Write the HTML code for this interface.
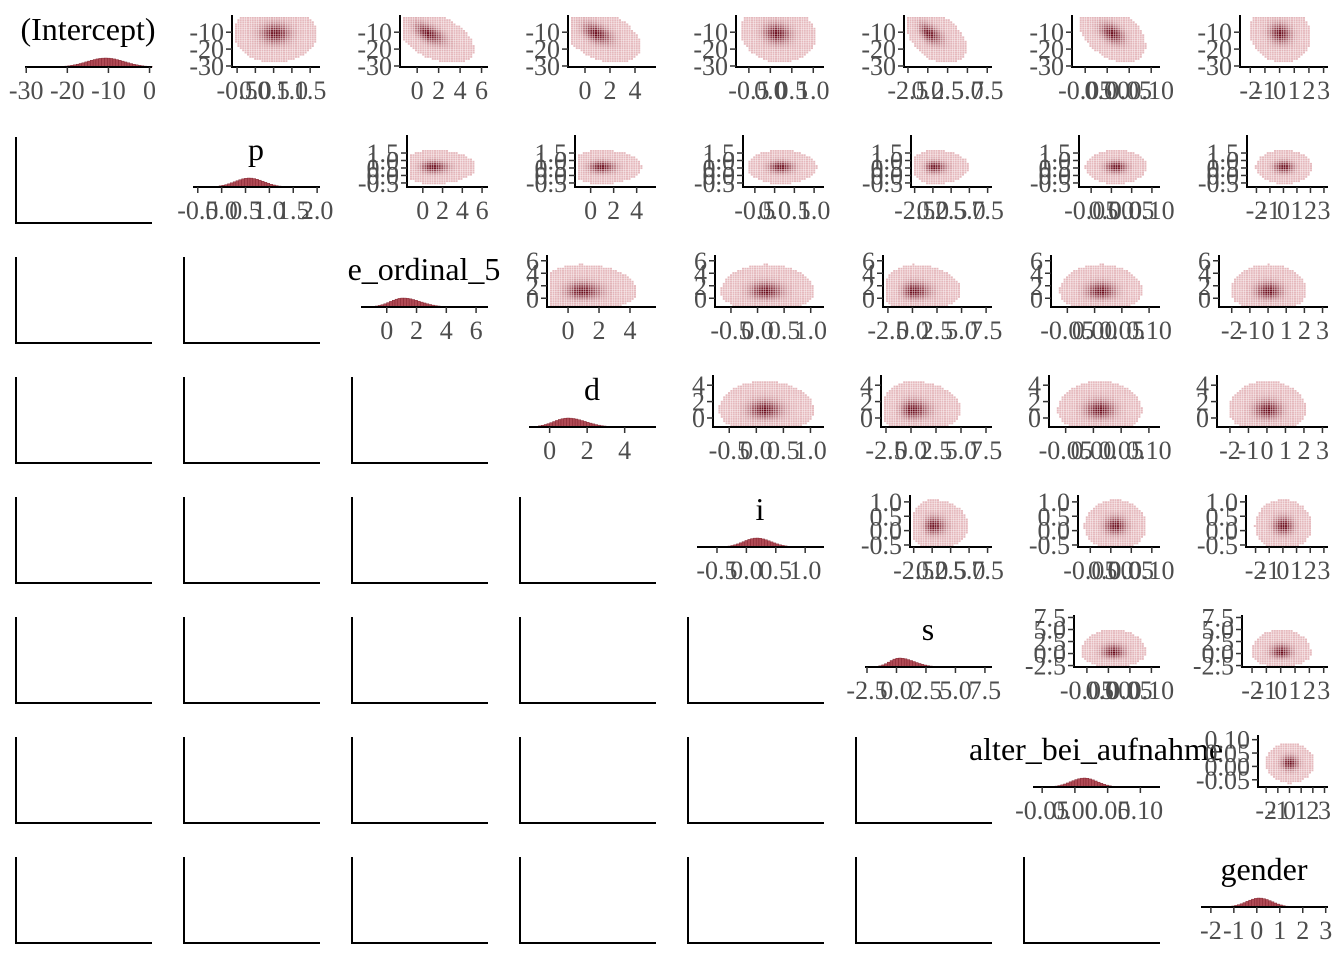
<!DOCTYPE html>
<html><head><meta charset="utf-8"><style>
html,body{margin:0;padding:0;background:#fff}
svg{display:block}
text{font-family:"Liberation Serif",serif}
.tk{fill:#4d4d4d;font-size:26px}
.tt{fill:#000;font-size:32px}
</style></head><body>
<svg id="chart" width="1344" height="960" viewBox="0 0 1344 960" xmlns="http://www.w3.org/2000/svg"></svg>
<script>
const varNames = ["(Intercept)","p","e_ordinal_5","d","i","s","alter_bei_aufnahme","gender"];
const varMeans = [-11, 0.55, 1.0, 0.9, 0.15, 0.1, 0.012, 0.05];
const varSds = [4.5, 0.3, 0.85, 0.75, 0.22, 0.8, 0.02, 0.55];
const varSkew = [0, 0, 0.35, 0.25, 0.1, 0.6, 0, 0];
const corrRow0 = [0, 0, -0.55, -0.45, -0.1, -0.5, -0.4, -0.1];
const diagRanges = [[-30.3,0.6],[-0.6,2.06],[-1.73,6.8],[-1.1,5.67],[-0.84,1.32],[-2.67,8.1],[-0.064,0.13],[-2.43,3.1]];
const colRanges = [[-31,1],[-0.64,1.77],[-1.6,6.6],[-1.36,5.68],[-0.8,1.25],[-3,8.1],[-0.08,0.12],[-2.7,3.3]];
const rowRanges = [[-30.6,-1],[-0.77,2.57],[-1.4,6.6],[-1.1,5.0],[-0.57,1.17],[-2.8,7.6],[-0.077,0.11]];
const diagTicks = [[-30,-20,-10,0],[-0.5,0,0.5,1,1.5,2],[0,2,4,6],[0,2,4],[-0.5,0,0.5,1],[-2.5,0,2.5,5,7.5],[-0.05,0,0.05,0.1],[-2,-1,0,1,2,3]];
const diagLabels = [["-30","-20","-10","0"],["-0.5","0.0","0.5","1.0","1.5","2.0"],["0","2","4","6"],["0","2","4"],["-0.5","0.0","0.5","1.0"],["-2.5","0.0","2.5","5.0","7.5"],["-0.05","0.00","0.05","0.10"],["-2","-1","0","1","2","3"]];
const colTicks = [[-30,-20,-10,0],[-0.5,0,0.5,1,1.5],[0,2,4,6],[0,2,4],[-0.5,0,0.5,1],[-2.5,0,2.5,5,7.5],[-0.05,0,0.05,0.1],[-2,-1,0,1,2,3]];
const colLabels = [["-30","-20","-10","0"],["-0.5","0.0","0.5","1.0","1.5"],["0","2","4","6"],["0","2","4"],["-0.5","0.0","0.5","1.0"],["-2.5","0.0","2.5","5.0","7.5"],["-0.05","0.00","0.05","0.10"],["-2","-1","0","1","2","3"]];
const rowTicks = [[-10,-20,-30],[-0.5,0,0.5,1,1.5],[0,2,4,6],[0,2,4],[-0.5,0,0.5,1],[-2.5,0,2.5,5,7.5],[-0.05,0,0.05,0.1]];
const rowLabels = [["-10","-20","-30"],["-0.5","0.0","0.5","1.0","1.5"],["0","2","4","6"],["0","2","4"],["-0.5","0.0","0.5","1.0"],["-2.5","0.0","2.5","5.0","7.5"],["-0.05","0.00","0.05","0.10"]];

const svg = document.getElementById('chart');
const NS = 'http://www.w3.org/2000/svg';
function mk(tag, attrs, parent){const e=document.createElementNS(NS,tag);for(const k in attrs)e.setAttribute(k,attrs[k]);(parent||svg).appendChild(e);return e;}
const rowOffsets = [64,71,43,41,70,66,82];
const CW=168, RH=120;
function lin(d0,d1,r0,r1){return v=>r0+(v-d0)/(d1-d0)*(r1-r0);}
function col(t){const a=[230,186,190],b=[105,8,24];t=Math.pow(t,1.8);return `rgb(${a.map((v,i)=>Math.round(v+(b[i]-v)*t)).join(',')})`;}

for(let r=0;r<8;r++){
  for(let c=0;c<8;c++){
    const cl=c*CW, top=17+r*RH, bot=67+r*RH;
    const g=mk('g',{});
    if(c<r){
      
      
      mk('path',{d:`M${cl+16} ${top}V${103+r*RH}H${cl+152}`,fill:'none',stroke:'#000','stroke-width':2},g);
    } else if(c===r){
      
      
      const L=cl+25,R=cl+152;
      const sx=lin(diagRanges[c][0],diagRanges[c][1],L,R);
      const m=varMeans[c],s=varSds[c];
      const bw=(diagRanges[c][1]-diagRanges[c][0])/45;
      for(let v=m-3.2*s;v<m+4*s;v+=bw){
        const z=(v-m)/(s*(v>m?1+varSkew[c]:1));
        const h=9*Math.exp(-z*z/2);
        if(h<0.4)continue;
        const b=mk('rect',{x:sx(v),y:bot-h,width:sx(v+bw)-sx(v),height:h,fill:'#b04a55',stroke:'#7a1d28','stroke-width':0.4},g);
        
        
      }
      mk('line',{x1:L,x2:R,y1:bot,y2:bot,stroke:'#000','stroke-width':2},g);
      diagTicks[c].forEach((t,i)=>{
        const x=sx(t);
        mk('line',{x1:x,x2:x,y1:bot,y2:bot+6,stroke:'#333','stroke-width':1.5},g);
        const tx=mk('text',{x:x,y:bot+32,'text-anchor':'middle',class:'tk'},g);tx.textContent=diagLabels[c][i];
      });
      const tt=mk('text',{x:cl+88,y:40+r*RH,'text-anchor':'middle',class:'tt'},g);
      
      
      tt.textContent=varNames[r];
    } else {
      
      
      const L=cl+rowOffsets[r],R=cl+152;
      const sx=lin(colRanges[c][0],colRanges[c][1],L,R);
      const sy=lin(rowRanges[r][0],rowRanges[r][1],bot,top);
      const ix=lin(L,R,colRanges[c][0],colRanges[c][1]);
      const iy=lin(bot,top,rowRanges[r][0],rowRanges[r][1]);
      const rho=r===0?corrRow0[c]:0;
      const cs=2.4;
      for(let px=L+3;px<R-1;px+=cs){
        for(let py=top;py<bot-2;py+=cs*0.9){
          const xv=ix(px+cs/2),yv=iy(py+cs/2);
          let zx=(xv-varMeans[c])/(varSds[c]*1.15);if(zx>0)zx/=(1+varSkew[c]);
          let zy=(yv-varMeans[r])/(varSds[r]*1.15);if(zy>0)zy/=(1+varSkew[r]);
          const q=(zx*zx-2*rho*zx*zy+zy*zy)/(1-rho*rho);
          if(q>11)continue;
          mk('rect',{x:px.toFixed(1),y:py.toFixed(1),width:cs-0.4,height:cs*0.9-0.3,fill:col(Math.exp(-q/2))},g);
        }
      }
      mk('path',{d:`M${L} ${top-2}V${bot}H${R}`,fill:'none',stroke:'#000','stroke-width':2},g);
      colTicks[c].forEach((t,i)=>{
        const x=sx(t);if(x<L-8||x>R+3)return;
        mk('line',{x1:x,x2:x,y1:bot,y2:bot+6,stroke:'#333','stroke-width':1.5},g);
        const tx=mk('text',{x:x,y:bot+32,'text-anchor':'middle',class:'tk'},g);tx.textContent=colLabels[c][i];
      });
      rowTicks[r].forEach((t,i)=>{
        const y=sy(t);if(y<top-6||y>bot+6)return;
        mk('line',{x1:L-6,x2:L,y1:y,y2:y,stroke:'#333','stroke-width':1.5},g);
        const tx=mk('text',{x:L-8,y:y+9,'text-anchor':'end',class:'tk'},g);tx.textContent=rowLabels[r][i];
      });
    }
  }
}
</script>
</body></html>
